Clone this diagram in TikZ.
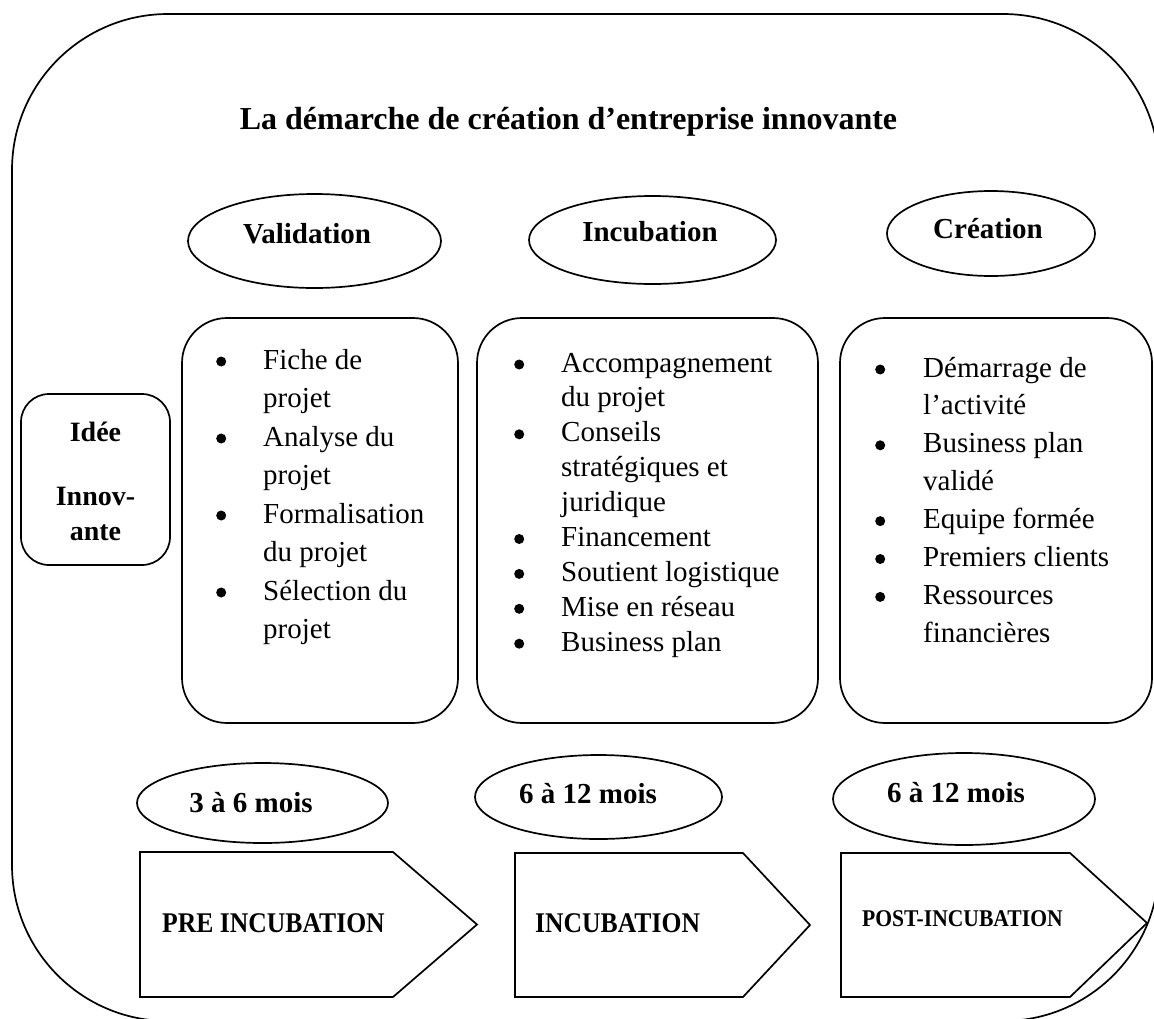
\documentclass[tikz,border=0pt]{standalone}
\usepackage{fontspec}
\setmainfont{Liberation Serif}
\newfontfamily\stagefont[FakeStretch=0.9]{Liberation Serif}
\usetikzlibrary{shapes.geometric}
% round list mark, centred on the x-height
\newcommand{\listdot}{\tikz[baseline=0pt]{\useasboundingbox (0pt,0pt) rectangle (10pt,1pt);
  \fill (5pt,7.5pt) circle (5pt);}}
\begin{document}
\begin{tikzpicture}[x=1pt,y=-1pt,
  outline/.style={draw=black, line width=1.7pt},
  phase/.style={outline, ellipse, inner sep=0pt},
  listbox/.style={outline, rounded corners=45pt, inner sep=0pt},
  ideabox/.style={outline, rounded corners=28pt, inner sep=0pt},
  stagearrow/.style={outline, line join=miter},
  label/.style={anchor=base, inner sep=0pt, font=\bfseries\fontsize{29}{35}\selectfont},
  stagetext/.style={anchor=base west, inner sep=0pt, font=\stagefont\bfseries\fontsize{#1}{#1}\selectfont},
  listtext/.style={anchor=base west, inner sep=0pt, font=\fontsize{29}{#1}\selectfont}
]
\useasboundingbox (0,0) rectangle (1154,1018);

% outer frame, larger than the page on the right and at the bottom
\begin{scope}
  \clip (0,0) rectangle (1154,1018);
  \draw[outline, rounded corners=156pt] (12,14) rectangle (1159,1021);
\end{scope}

% title
\node[anchor=base, inner sep=0pt, font=\bfseries\fontsize{32}{38}\selectfont] (title) at (568.5,129)
  {La démarche de création d’entreprise innovante};

% phase ellipses
\node[phase, minimum width=253pt, minimum height=94pt] (valid) at (314.5,241) {};
\node[phase, minimum width=247pt, minimum height=88pt] (incub) at (652.5,240) {};
\node[phase, minimum width=208pt, minimum height=85pt] (creat) at (991,233.5) {};
\node[label] (validT) at (307,243) {Validation};
\node[label] (incubT) at (650,241) {Incubation};
\node[label] (creatT) at (988,238) {Création};

% starting idea
\node[ideabox, minimum width=149pt, minimum height=171pt] (idea) at (95.5,479.5) {};
\node[anchor=base, inner sep=0pt, font=\bfseries\fontsize{28}{35}\selectfont] (ideaT) at (95.5,441)
  {\begin{tabular}[t]{@{}c@{}}Idée\\[29pt]Innov-\\ante\end{tabular}};

% content boxes
\node[listbox, minimum width=276pt, minimum height=405pt] (box1) at (320,520.5) {};
\node[listbox, minimum width=341pt, minimum height=405pt] (box2) at (647.5,520.5) {};
\node[listbox, minimum width=312pt, minimum height=405pt] (box3) at (996,520.5) {};

\node[listtext=38.5] (list1) at (216,369) {\begin{tabular}[t]{@{}p{47pt}@{}l@{}}
  \listdot & Fiche de\\ & projet\\
  \listdot & Analyse du\\ & projet\\
  \listdot & Formalisation\\ & du projet\\
  \listdot & Sélection du\\ & projet
\end{tabular}};

\node[listtext=34.9] (list2) at (514,372) {\begin{tabular}[t]{@{}p{47pt}@{}l@{}}
  \listdot & Accompagnement\\ & du projet\\
  \listdot & Conseils\\ & stratégiques et\\ & juridique\\
  \listdot & Financement\\
  \listdot & Soutient logistique\\
  \listdot & Mise en réseau\\
  \listdot & Business plan
\end{tabular}};

\node[listtext=37.9] (list3) at (875,377) {\begin{tabular}[t]{@{}p{48pt}@{}l@{}}
  \listdot & Démarrage de\\ & l’activité\\
  \listdot & Business plan\\ & validé\\
  \listdot & Equipe formée\\
  \listdot & Premiers clients\\
  \listdot & Ressources\\ & financières
\end{tabular}};

% durations
\node[phase, minimum width=251pt, minimum height=80pt] (dur1) at (262.5,803) {};
\node[phase, minimum width=247pt, minimum height=84pt] (dur2) at (598.5,797) {};
\node[phase, minimum width=262pt, minimum height=92pt] (dur3) at (964,799) {};
\node[label] (dur1T) at (251,812) {3 à 6 mois};
\node[label] (dur2T) at (588,803) {6 à 12 mois};
\node[label] (dur3T) at (956,802) {6 à 12 mois};

% stage arrows
\draw[stagearrow] (140,852) -- (393,852) -- (477,924.5) -- (393,997) -- (140,997) -- cycle;
\draw[stagearrow] (515,853) -- (743,853) -- (810,925) -- (743,997) -- (515,997) -- cycle;
\draw[stagearrow] (841,853) -- (1070,853) -- (1147,923) -- (1070,997) -- (841,997) -- cycle;
\node[stagetext=28.5] (stage1) at (162,932) {PRE INCUBATION};
\node[stagetext=28.5] (stage2) at (535,932) {INCUBATION};
\node[stagetext=24] (stage3) at (862,926) {POST-INCUBATION};
\end{tikzpicture}
\end{document}
